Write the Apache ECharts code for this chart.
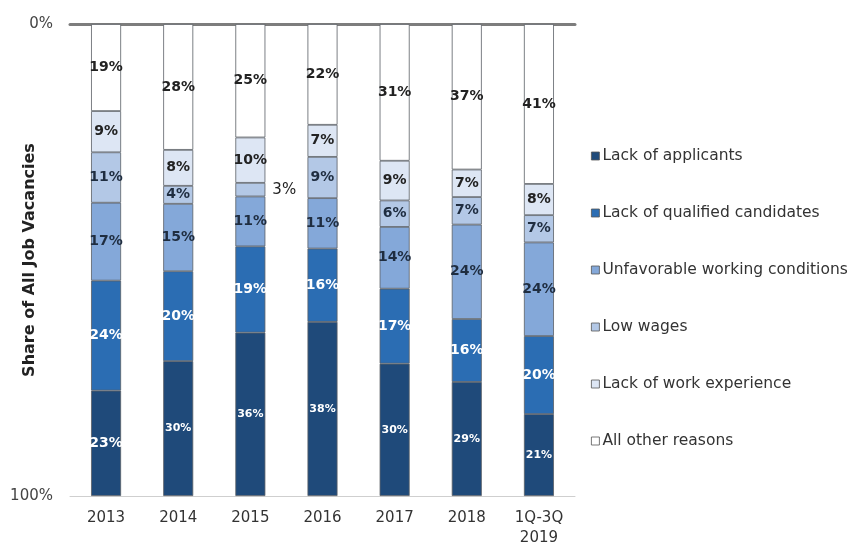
<!DOCTYPE html>
<html>
<head>
<meta charset="utf-8">
<script src="https://cdn.jsdelivr.net/npm/echarts@6/dist/echarts.min.js"></script>
<style>
  html, body { margin: 0; padding: 0; background: #ffffff; }
  #chart { width: 853px; height: 548px; }
</style>
</head>
<body>
<div id="chart"></div>
<script>
// Reasons for unfilled job vacancies, share by year (percent labels as published)
const years = ['2013', '2014', '2015', '2016', '2017', '2018', '1Q-3Q\n2019'];
const lackOfApplicants = [23, 30, 36, 38, 30, 29, 21];
const lackOfQualified = [24, 20, 19, 16, 17, 16, 20];
const unfavorableConditions = [17, 15, 11, 11, 14, 24, 24];
const lowWages = [11, 4, 3, 9, 6, 7, 7];
const lackOfExperience = [9, 8, 10, 7, 9, 7, 8];
const otherReasons = [19, 28, 25, 22, 31, 37, 41];
const yTicks = ['0%', '100%'];

const FONT = 'DejaVu Sans, Verdana, sans-serif';

const seriesDefs = [
  { name: 'Lack of applicants', values: lackOfApplicants, color: '#1f4a7a', text: '#ffffff' },
  { name: 'Lack of qualified candidates', values: lackOfQualified, color: '#2b6db3', text: '#ffffff' },
  { name: 'Unfavorable working conditions', values: unfavorableConditions, color: '#84a8d9', text: '#1f2d40' },
  { name: 'Low wages', values: lowWages, color: '#b3c8e6', text: '#1f2d40' },
  { name: 'Lack of work experience', values: lackOfExperience, color: '#dde6f4', text: '#222222' },
  { name: 'All other reasons', values: otherReasons, color: '#ffffff', text: '#222222' }
];

// Each column is a 100% stack: segment heights are each reason's share of that year's total
const totals = years.map((_, i) => seriesDefs.reduce((s, d) => s + d.values[i], 0));

// The value axis runs downward, so the stack is built from the top: other reasons first
const series = seriesDefs.slice().reverse().map(def => ({
  name: def.name,
  type: 'bar',
  stack: 'total',
  barWidth: 30,
  itemStyle: { color: def.color, borderColor: '#5a5f66', borderWidth: 0.8 },
  label: {
    show: true,
    position: 'inside',
    color: def.text,
    fontFamily: FONT,
    fontWeight: 'bold',
    fontSize: 14,
    formatter: p => def.values[p.dataIndex] + '%'
  },
  data: def.values.map((v, i) => {
    const item = { value: v / totals[i] * 100 };
    if (def.values === lackOfApplicants && i > 0) {
      item.label = { fontSize: 11 };
    }
    if (def.values === lowWages && v < 4) {
      item.label = { position: 'right', distance: 7, fontWeight: 'normal', fontSize: 15, color: '#222222' };
    }
    return item;
  })
}));

const chart = echarts.init(document.getElementById('chart'), null, { renderer: 'canvas' });
chart.setOption({
  animation: false,
  backgroundColor: '#ffffff',
  grid: { left: 70, right: 278, top: 24, bottom: 52, containLabel: false, outerBoundsMode: 'none' },
  legend: {
    orient: 'vertical',
    left: 586,
    top: 143,
    itemWidth: 8,
    itemHeight: 8,
    itemGap: 41,
    icon: 'rect',
    itemStyle: { borderColor: '#555555', borderWidth: 0.8 },
    textStyle: { fontFamily: FONT, fontSize: 15.5, color: '#333333', padding: [0, 0, 0, -2] },
    data: seriesDefs.map(d => d.name)
  },
  xAxis: [
    {
      type: 'category',
      data: years,
      position: 'bottom',
      axisLine: { onZero: false, lineStyle: { color: '#cfcfcf', width: 1 } },
      axisTick: { show: false },
      axisLabel: {
        color: '#333333',
        fontFamily: FONT,
        fontSize: 15,
        margin: 12,
        lineHeight: 20
      }
    },
    {
      type: 'category',
      data: years,
      position: 'top',
      axisLine: { onZero: false, lineStyle: { color: '#7d7d7d', width: 3 } },
      axisTick: { show: false },
      axisLabel: { show: false }
    }
  ],
  yAxis: {
    type: 'value',
    inverse: true,
    min: 0,
    max: 100,
    interval: 100,
    name: 'Share of All Job Vacancies',
    nameLocation: 'middle',
    nameRotate: 90,
    nameGap: 32,
    nameMoveOverlap: false,
    nameTextStyle: { fontFamily: FONT, fontWeight: 'bold', fontSize: 16, color: '#222222' },
    axisLine: { show: false },
    axisTick: { show: false },
    splitLine: { show: false },
    axisLabel: {
      color: '#444444',
      fontFamily: FONT,
      fontSize: 15,
      margin: 17,
      formatter: v => (v === 0 ? yTicks[0] : yTicks[1])
    }
  },
  series: series
});
</script>
</body>
</html>
